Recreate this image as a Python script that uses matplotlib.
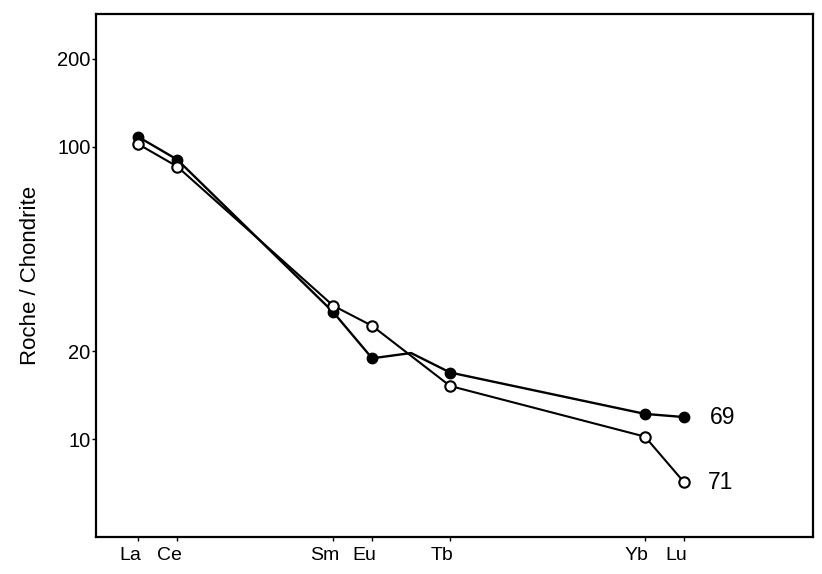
import matplotlib
matplotlib.use('Agg')
import matplotlib.pyplot as plt
import matplotlib.transforms as mtransforms
from matplotlib.ticker import FixedLocator, NullLocator

plt.rcParams['font.family'] = ['Liberation Sans', 'DejaVu Sans']

# Rare earth elements (atomic numbers) and their labels
ree_z = [57, 58, 62, 63, 65, 70, 71]
ree_labels = ['La', 'Ce', 'Sm', 'Eu', 'Tb', 'Yb', 'Lu']

# Sample 69 (filled circles); Gd is interpolated, drawn without marker
s69_z = [57, 58, 62, 63, 64, 65, 70, 71]
s69_val = [108, 90.3, 27.2, 18.9, 19.7, 16.9, 12.2, 11.9]
s69_marked = [0, 1, 2, 3, 5, 6, 7]

# Sample 71 (open circles)
s71_z = [57, 58, 62, 63, 65, 70, 71]
s71_val = [102, 85.5, 28.6, 24.4, 15.2, 10.2, 7.13]

y_ticks = [10, 20, 100, 200]

fig = plt.figure(figsize=(8.22, 5.74), dpi=100)
ax = fig.add_axes([0.117, 0.0645, 0.872, 0.911])

ax.plot(s69_z, s69_val, '-o', color='black', lw=1.7, ms=7.5,
        markevery=s69_marked, zorder=3)
ax.plot(s71_z, s71_val, '-o', color='black', lw=1.5, ms=7.5,
        mfc='white', mec='black', mew=1.5, zorder=4)

ax.annotate('69', (s69_z[-1], s69_val[-1]), xytext=(26, 0),
            textcoords='offset pixels', va='center', fontsize=16.5)
ax.annotate('71', (s71_z[-1], s71_val[-1]), xytext=(24, 0),
            textcoords='offset pixels', va='center', fontsize=16.5)

ax.set_yscale('log')
ax.set_ylim(4.63, 284)
ax.set_xlim(55.92, 74.31)

ax.yaxis.set_major_locator(FixedLocator(y_ticks))
ax.yaxis.set_minor_locator(NullLocator())
ax.set_yticklabels([str(t) for t in y_ticks])
ax.set_xticks(ree_z)
ax.set_xticklabels(ree_labels)

ax.tick_params(axis='y', length=3, width=1, pad=1, labelsize=14.5)
ax.tick_params(axis='x', length=3, width=1, pad=4, labelsize=14)

# tick labels in the original sit a little left of the ticks
shift = mtransforms.ScaledTranslation(-8 / 100, 0, fig.dpi_scale_trans)
for lab in ax.get_xticklabels():
    lab.set_transform(lab.get_transform() + shift)

ax.set_ylabel('Roche / Chondrite', fontsize=16, labelpad=12)

for sp in ax.spines.values():
    sp.set_linewidth(1.6)

fig.savefig('out.png', dpi=100)
